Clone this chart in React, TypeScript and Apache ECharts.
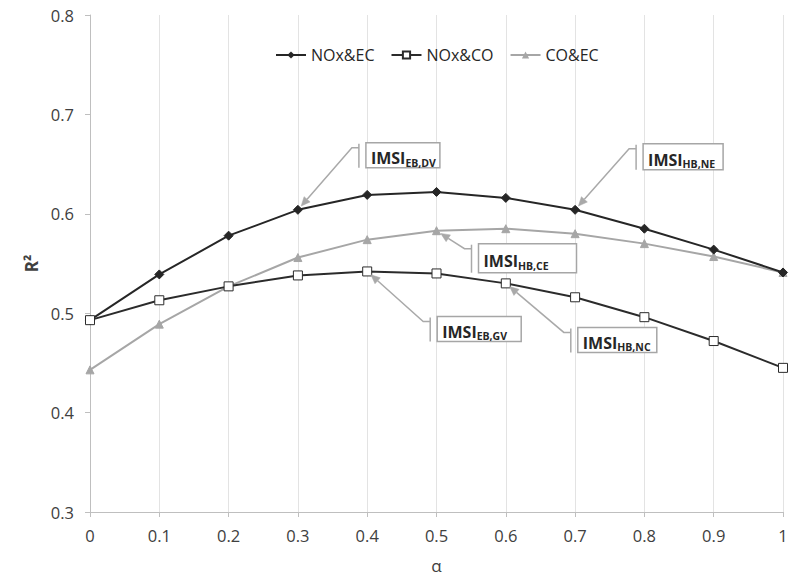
import React, { useEffect, useRef } from "react";
import * as echarts from "echarts";

const alpha = [0, 0.1, 0.2, 0.3, 0.4, 0.5, 0.6, 0.7, 0.8, 0.9, 1];
const noxEC = [0.493, 0.539, 0.578, 0.604, 0.619, 0.622, 0.616, 0.604, 0.585, 0.564, 0.541];
const noxCO = [0.493, 0.513, 0.527, 0.538, 0.542, 0.54, 0.53, 0.516, 0.496, 0.472, 0.445];
const coEC = [0.443, 0.489, 0.527, 0.556, 0.574, 0.583, 0.585, 0.58, 0.57, 0.557, 0.541];
const seriesNames = ["NOx&EC", "NOx&CO", "CO&EC"];

// callouts: label, subscript, series index, point index
const calloutMain = ["IMSI", "IMSI", "IMSI", "IMSI", "IMSI"];
const calloutSub = ["EB,DV", "HB,NE", "HB,CE", "EB,GV", "HB,NC"];
const calloutSeries = [0, 0, 2, 1, 1];
const calloutPoint = [3, 7, 5, 4, 6];
const calloutOffset = [
  [68, -67, 74, 25],
  [68, -66, 80, 26],
  [42, 13, 98, 29],
  [70, 45, 84, 25],
  [72, 44, 79, 25],
];

const FONT = "'Open Sans', sans-serif";

export default function App() {
  const ref = useRef<HTMLDivElement>(null);
  useEffect(() => {
    if (!ref.current) return;
    const chart = echarts.init(ref.current, null, { renderer: "svg" });
    const allData = [noxEC, noxCO, coEC];
    chart.setOption({
      animation: false,
      backgroundColor: "#ffffff",
      grid: { left: 90, right: 17, top: 15, bottom: 70 },
      legend: {
        top: 42,
        left: 270,
        itemGap: 16,
        itemWidth: 30,
        itemHeight: 9,
        textStyle: { fontFamily: FONT, fontSize: 16, color: "#262626" },
        data: seriesNames,
      },
      xAxis: {
        type: "value",
        min: 0,
        max: 1,
        interval: 0.1,
        name: "α",
        nameLocation: "middle",
        nameGap: 45,
        nameTextStyle: { fontFamily: FONT, fontSize: 17, color: "#404040" },
        axisLine: { show: true, lineStyle: { color: "#bfbfbf", width: 1 } },
        axisTick: { show: true, length: 5, lineStyle: { color: "#bfbfbf" } },
        axisLabel: {
          fontFamily: FONT,
          fontSize: 16.5,
          color: "#404040",
          margin: 15,
          formatter: (v: number) => String(Math.round(v * 10) / 10),
        },
        splitLine: { show: true, lineStyle: { color: "#e3e3e3", width: 1 } },
      },
      yAxis: {
        type: "value",
        min: 0.3,
        max: 0.8,
        interval: 0.1,
        name: "R²",
        nameLocation: "middle",
        nameGap: 41,
        nameRotate: 90,
        nameTextStyle: { fontFamily: FONT, fontSize: 17, fontWeight: "bold", color: "#404040" },
        axisLine: { show: true, lineStyle: { color: "#bfbfbf", width: 1 } },
        axisTick: { show: true, length: 5, lineStyle: { color: "#bfbfbf" } },
        axisLabel: {
          fontFamily: FONT,
          fontSize: 16.5,
          color: "#404040",
          margin: 16,
          formatter: (v: number) => v.toFixed(1),
        },
        splitLine: { show: false },
      },
      series: [
        {
          name: seriesNames[0],
          type: "line",
          data: alpha.map((a, i) => [a, noxEC[i]]),
          symbol: "diamond",
          symbolSize: 9,
          lineStyle: { color: "#262626", width: 2 },
          itemStyle: { color: "#262626", borderColor: "#262626" },
          z: 3,
        },
        {
          name: seriesNames[1],
          type: "line",
          data: alpha.map((a, i) => [a, noxCO[i]]),
          symbol: "rect",
          symbolSize: 9,
          lineStyle: { color: "#2b2b2b", width: 2 },
          itemStyle: { color: "#ffffff", borderColor: "#2b2b2b", borderWidth: 1 },
          z: 4,
        },
        {
          name: seriesNames[2],
          type: "line",
          data: alpha.map((a, i) => [a, coEC[i]]),
          symbol: "triangle",
          symbolSize: 8,
          lineStyle: { color: "#a6a6a6", width: 2 },
          itemStyle: { color: "#a6a6a6", borderColor: "#a6a6a6" },
          z: 2,
        },
      ],
    });

    const graphics: any[] = [];
    const lineColor = "#a9a9a9";
    for (let k = 0; k < calloutSub.length; k++) {
      const s = calloutSeries[k];
      const p = calloutPoint[k];
      const pt = chart.convertToPixel({ gridIndex: 0 }, [alpha[p], allData[s][p]]) as number[];
      const [dx, dy, w, h] = calloutOffset[k];
      const bx = pt[0] + dx;
      const by = pt[1] + dy;
      const barX = bx - 7;
      const elbow = [barX - 7, by + 5];
      const vx = elbow[0] - pt[0];
      const vy = elbow[1] - pt[1];
      const len = Math.sqrt(vx * vx + vy * vy);
      const ux = vx / len;
      const uy = vy / len;
      const tip = [pt[0] + ux * 5, pt[1] + uy * 5];
      const base = [tip[0] + ux * 9, tip[1] + uy * 9];
      const nx = -uy;
      const ny = ux;
      graphics.push({
        type: "polyline",
        shape: { points: [[barX, by + 5], elbow, base] },
        style: { stroke: lineColor, lineWidth: 1.5, fill: null },
        z: 10,
      });
      graphics.push({
        type: "polygon",
        shape: {
          points: [
            tip,
            [base[0] + nx * 4, base[1] + ny * 4],
            [base[0] - nx * 4, base[1] - ny * 4],
          ],
        },
        style: { fill: lineColor, stroke: lineColor, lineWidth: 0.5 },
        z: 10,
      });
      graphics.push({
        type: "line",
        shape: { x1: barX, y1: by + 1, x2: barX, y2: by + h },
        style: { stroke: lineColor, lineWidth: 1.5 },
        z: 10,
      });
      graphics.push({
        type: "rect",
        shape: { x: bx, y: by, width: w, height: h },
        style: { fill: "#ffffff", stroke: "#a6a6a6", lineWidth: 1.5 },
        z: 10,
      });
      graphics.push({
        type: "text",
        x: bx + 5,
        y: by + h / 2 + 1,
        style: {
          text: "{m|" + calloutMain[k] + "}{s|" + calloutSub[k] + "}",
          verticalAlign: "middle",
          rich: {
            m: { fontFamily: FONT, fontSize: 16, fontWeight: "bold", fill: "#262626", lineHeight: 20, verticalAlign: "bottom" },
            s: { fontFamily: FONT, fontSize: 10.5, fontWeight: "bold", fill: "#262626", lineHeight: 20, verticalAlign: "bottom", padding: [0, 0, -2, 0] },
          },
        },
        z: 11,
      });
    }
    chart.setOption({ graphic: graphics });
    return () => chart.dispose();
  }, []);
  return <div ref={ref} style={{ width: 800, height: 582, position: "absolute", left: 0, top: 0 }} />;
}
